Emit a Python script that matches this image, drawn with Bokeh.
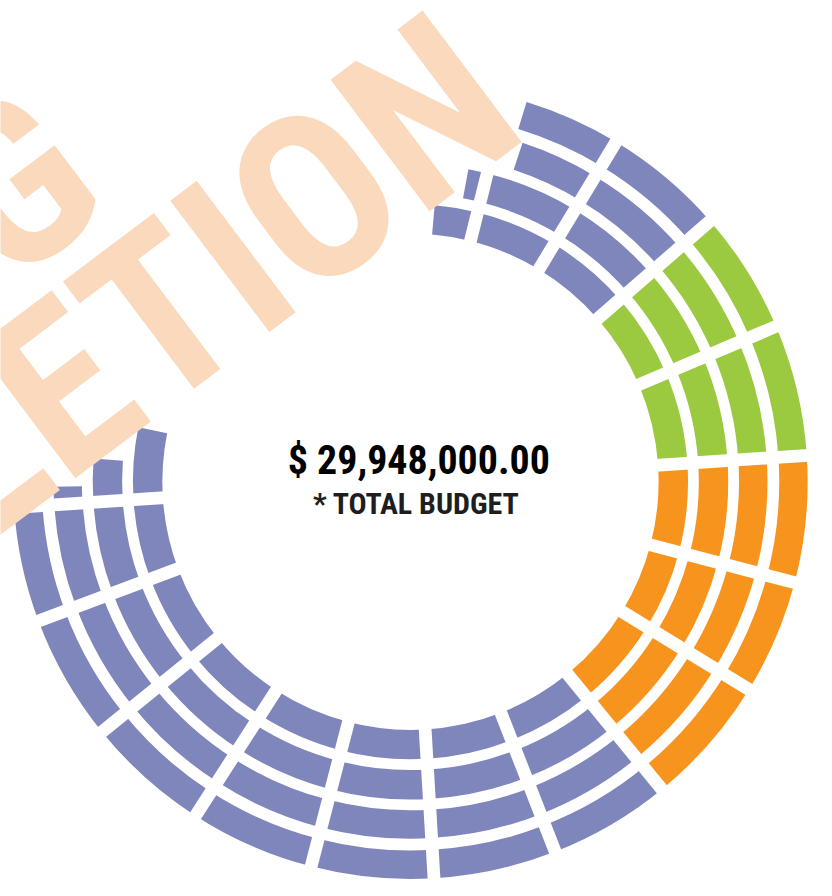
import numpy as np
from bokeh.plotting import figure
from bokeh.models import Range1d, ColumnDataSource
from bokeh.core.properties import value
from bokeh.embed import file_html
from bokeh.resources import INLINE

# ---------------- data ----------------
# radial dividers between sectors (degrees, counter-clockwise from east)
sector_edges = [-176.3, -159.5, -141.0, -122.8, -104.5, -86.6, -68.6,
                -50.7, -31.5, -14.7, 3.8, 23.0, 41.0, 58.8, 76.0]
# colour group of every sector, from the left end of the ring to its top end
sector_groups = ["purple"] * 8 + ["orange"] * 3 + ["green"] * 2 + ["purple"] * 3
# four concentric rings (inner -> outer)
ring_inner = [253, 294, 335, 376]
ring_outer = [283, 324, 364, 405]
# where each ring is cut off by the stamp (left end, top end), degrees
ring_start = [168.7, 175.8, 180.8, 181.7]
ring_end = [85.0, 79.5, 71.7, 73.0]

total_label = "$ 29,948,000.00"
sub_label = "* TOTAL BUDGET"
stamp_lines = ["PENDING", "COMPLETION"]

palette = {"purple": "#7F86BB", "orange": "#F7941E", "green": "#9BC93F"}
FONT = value("Roboto Condensed, DejaVu Sans Condensed, Liberation Sans")

# ---------------- layout ----------------
W, H = 816, 880
RX, RY = 832, 896          # reference canvas, data units
k = W / RX                 # screen px per data unit
cx, cy = 418, 406

p = figure(width=W, height=H, x_range=Range1d(0, RX), y_range=Range1d(0, RY),
           output_backend="svg", toolbar_location=None, min_border=0)
p.axis.visible = False
p.grid.visible = False
p.outline_line_color = None
p.background_fill_color = "white"
p.border_fill_color = "white"

rows = dict(x=[], y=[], inner=[], outer=[], start=[], end=[], color=[])
for b in range(4):
    pts = [ring_start[b] - 360] + [e for e in sector_edges if e < ring_end[b]] + [ring_end[b]]
    for i in range(len(pts) - 1):
        rows["x"].append(cx)
        rows["y"].append(cy)
        rows["inner"].append(ring_inner[b])
        rows["outer"].append(ring_outer[b])
        rows["start"].append(np.radians(pts[i]))
        rows["end"].append(np.radians(pts[i + 1]))
        rows["color"].append(palette[sector_groups[i]])

src = ColumnDataSource(rows)
p.annular_wedge(x="x", y="y", inner_radius="inner", outer_radius="outer",
                start_angle="start", end_angle="end",
                fill_color="color", line_color=None, source=src)

# white dividers of constant width between sectors
ang = np.radians(sector_edges)
r0, r1 = ring_inner[0] - 10, ring_outer[-1] + 10
p.segment(x0=cx + r0 * np.cos(ang), y0=cy + r0 * np.sin(ang),
          x1=cx + r1 * np.cos(ang), y1=cy + r1 * np.sin(ang),
          line_color="white", line_width=13 * k, line_cap="butt")

# text anchors sit ~0.355 em above the baseline in this renderer
BASE = 0.355

# ---------------- stamp ----------------
stamp_angle = 37.0
stamp_size = 236.0
t = np.radians(stamp_angle)
u = np.array([np.cos(t), np.sin(t)])
v = np.array([-np.sin(t), np.cos(t)])
n_corner = np.array([533.0, 749.0])
a2 = n_corner + 14 * u + BASE * stamp_size * v
a1 = n_corner - 371 * u + 196 * v + BASE * stamp_size * v
p.text(x=[a1[0], a2[0]], y=[a1[1], a2[1]], text=stamp_lines,
       angle=t, text_font=FONT, text_font_style="bold",
       text_font_size=f"{stamp_size * k:.1f}px", text_color="#FAD9BD",
       text_align="right", text_baseline="alphabetic")

# ---------------- centre labels ----------------
s1, s2 = 40.7, 30.6
p.text(x=[426.5], y=[413 + BASE * s1], text=[total_label],
       text_font=FONT, text_font_style="bold",
       text_font_size=f"{s1 * k:.1f}px", text_color="#000000",
       text_align="center", text_baseline="alphabetic")
p.text(x=[424], y=[373 + BASE * s2], text=[sub_label],
       text_font=FONT, text_font_style="bold",
       text_font_size=f"{s2 * k:.1f}px", text_color="#1E1E1E",
       text_align="center", text_baseline="alphabetic")

open("out.html", "w").write(file_html(p, INLINE))
